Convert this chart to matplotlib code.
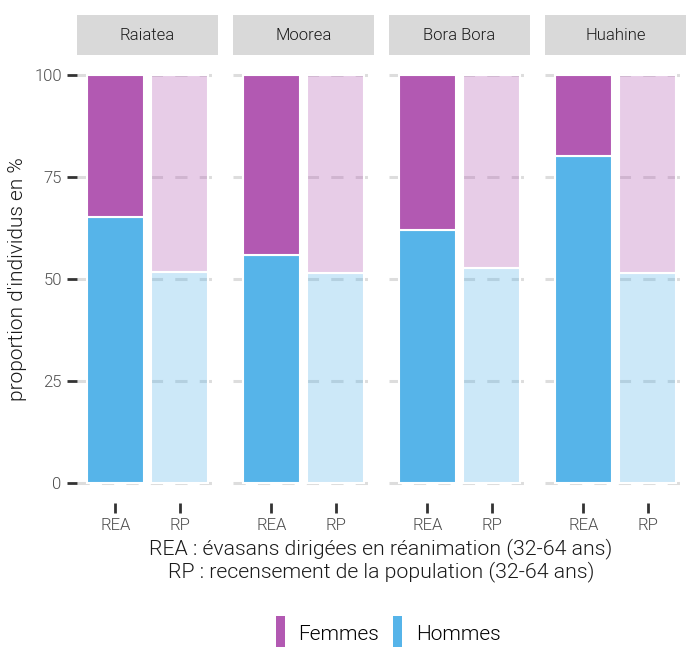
import matplotlib
matplotlib.use("Agg")
import matplotlib.pyplot as plt
import matplotlib.colors as mc
from matplotlib.patches import Patch

plt.rcParams['font.family'] = ['Roboto', 'DejaVu Sans']
plt.rcParams['font.weight'] = 300

iles = ["Raiatea", "Moorea", "Bora Bora", "Huahine"]
sources = ["REA", "RP"]
hommes_rea = [65.2, 55.9, 62.0, 80.1]
hommes_rp = [51.7, 51.5, 52.7, 51.5]
femmes_rea = [100 - v for v in hommes_rea]
femmes_rp = [100 - v for v in hommes_rp]
yticks = [0, 25, 50, 75, 100]

col_f = "#B259B2"
col_h = "#56B4E9"
alpha_rp = 0.3
FW = 300

W, H = 686, 647
fig = plt.figure(figsize=(W / 100, H / 100), dpi=100)

def to_rgba(hexc, a):
    r, g, b = mc.to_rgb(hexc)
    return (r, g, b, a)

for i, ile in enumerate(iles):
    left = 77 + i * 156
    ax = fig.add_axes([left / W, (H - 503) / H, 141 / W, 448 / H])
    h = [hommes_rea[i], hommes_rp[i]]
    f = [femmes_rea[i], femmes_rp[i]]
    for j, src in enumerate(sources):
        a = 1.0 if src == "REA" else alpha_rp
        ax.bar(j + 1, h[j], width=0.9, color=to_rgba(col_h, a), edgecolor="white", linewidth=1.5, zorder=2)
        ax.bar(j + 1, f[j], bottom=h[j], width=0.9, color=to_rgba(col_f, a), edgecolor="white", linewidth=1.5, zorder=2)
    ax.set_xlim(0.4, 2.6)
    ax.set_ylim(-5, 105)
    ax.set_xticks([1, 2])
    ax.set_xticklabels(sources, fontsize=12, color="#4D4D4D", fontweight=FW)
    ax.set_yticks(yticks)
    ax.tick_params(axis="both", color="#333333", width=2, length=7, pad=4)
    if i == 0:
        ax.set_yticklabels([str(v) for v in yticks], fontsize=12, color="#4D4D4D", fontweight=FW)
        ax.set_ylabel("proportion d'individus en %", fontsize=15, color="#1A1A1A", labelpad=5, fontweight=FW)
    else:
        ax.tick_params(axis="y", length=0, labelleft=False)
    ax.set_axisbelow(True)
    ax.yaxis.grid(True, color="#DDDDDD", linestyle=(0, (4, 4)), linewidth=2.2, zorder=0)
    ax.xaxis.grid(False)
    for s in ax.spines.values():
        s.set_visible(False)
    # strip
    sax = fig.add_axes([left / W, (H - 55) / H, 141 / W, 40 / H])
    sax.set_facecolor("#D9D9D9")
    sax.set_xticks([]); sax.set_yticks([])
    for s in sax.spines.values():
        s.set_visible(False)
    sax.text(0.5, 0.5, ile, ha="center", va="center", fontsize=12, color="#1A1A1A",
             fontweight=FW, transform=sax.transAxes)

fig.text(381 / W, 1 - 549 / H, "REA : évasans dirigées en réanimation (32-64 ans)", ha="center", va="center",
         fontsize=15.3, color="#1A1A1A", fontweight=FW)
fig.text(381 / W, 1 - 572 / H, "RP : recensement de la population (32-64 ans)", ha="center", va="center",
         fontsize=15.3, color="#1A1A1A", fontweight=FW)

handles = [Patch(facecolor=col_f, edgecolor="none"), Patch(facecolor=col_h, edgecolor="none")]
fig.legend(handles, ["Femmes", "Hommes"], loc="center", bbox_to_anchor=(388 / W, 1 - 633 / H),
           ncol=2, frameon=False, prop={"size": 15, "weight": FW}, handlelength=0.45, handleheight=2.2,
           handletextpad=0.65, columnspacing=0.65)

fig.savefig("out.png", dpi=100)
